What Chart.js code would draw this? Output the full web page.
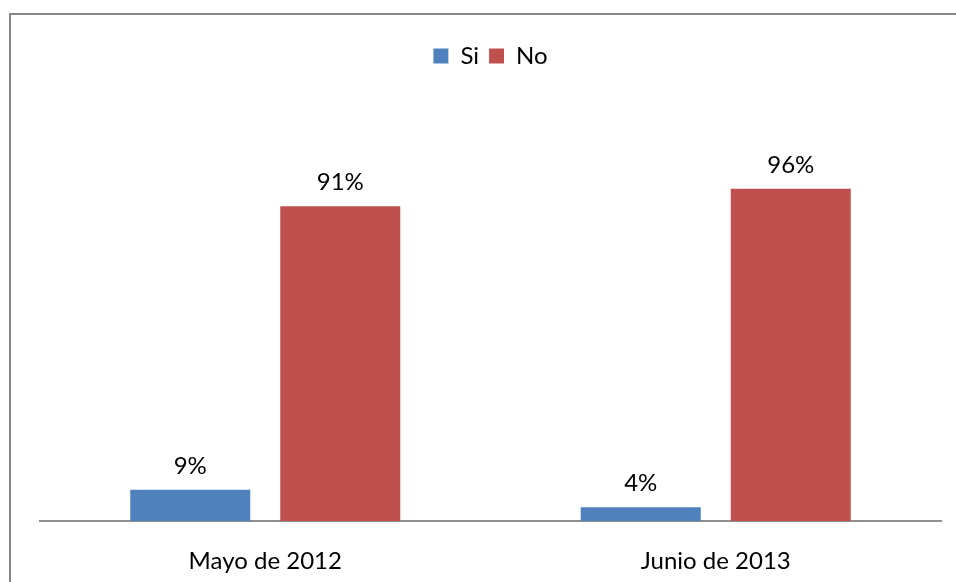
<!DOCTYPE html>
<html>
<head>
<meta charset="utf-8">
<script src="https://cdn.jsdelivr.net/npm/chart.js@4.4.0/dist/chart.umd.min.js"></script>
<style>
  body { margin:0; background:#fff; }
  #wrap { position:relative; width:956px; height:582px; overflow:hidden; }
  #frame { position:absolute; left:9px; top:13px; width:1000px; height:700px; border-left:2px solid #878787; border-top:2px solid #878787; }
  canvas { position:absolute; left:0; top:0; }
</style>
</head>
<body>
<div id="wrap">
  <div id="frame"></div>
  <canvas id="chart" width="956" height="582"></canvas>
</div>
<script>
// DATOS
const categories = ['Mayo de 2012', 'Junio de 2013'];
const siValues = [9, 4];
const noValues = [91, 96];

const FONT = 'Lato';
const SIZE = 24;

// ETIQUETAS SOBRE LAS BARRAS
const barLabels = {
    id: 'barLabels',
    afterDatasetsDraw(chart) {
        const ctx = chart.ctx;
        ctx.save();
        ctx.font = SIZE + 'px "' + FONT + '"';
        ctx.fillStyle = '#000';
        ctx.textAlign = 'center';
        ctx.textBaseline = 'middle';
        chart.data.datasets.forEach((ds, i) => {
            chart.getDatasetMeta(i).data.forEach((bar, j) => {
                ctx.fillText(ds.data[j] + '%', bar.x, bar.y - 24);
            });
        });
        ctx.restore();
    }
};

// ESPACIO BAJO LA LEYENDA
const legendGap = {
    id: 'legendGap',
    beforeInit(chart) {
        const fit = chart.legend.fit;
        chart.legend.fit = function () {
            fit.bind(chart.legend)();
            this.height += 97;
        };
    }
};

new Chart(document.getElementById('chart'), {
    type: 'bar',
    data: {
        labels: categories,
        datasets: [
            { label: 'Si', data: siValues, backgroundColor: '#4F81BD' },
            { label: 'No', data: noValues, backgroundColor: '#C0504D' }
        ]
    },
    options: {
        responsive: false,
        animation: false,
        categoryPercentage: 0.666,
        barPercentage: 0.8,
        layout: { padding: { left: 40, right: 15, top: 34, bottom: 0 } },
        plugins: {
            legend: {
                display: true,
                labels: {
                    font: { family: FONT, size: SIZE },
                    color: '#000',
                    boxWidth: 15,
                    boxHeight: 15,
                    padding: 10
                }
            },
            tooltip: { enabled: false }
        },
        scales: {
            y: { display: false, min: 0, max: 100 },
            x: {
                grid: { display: false },
                border: { display: true, color: '#8f8f8f', width: 2 },
                ticks: { color: '#000', font: { family: FONT, size: SIZE }, padding: 18 },
                afterFit(scale) { scale.height = 61; }
            }
        }
    },
    plugins: [barLabels, legendGap]
});
</script>
</body>
</html>
